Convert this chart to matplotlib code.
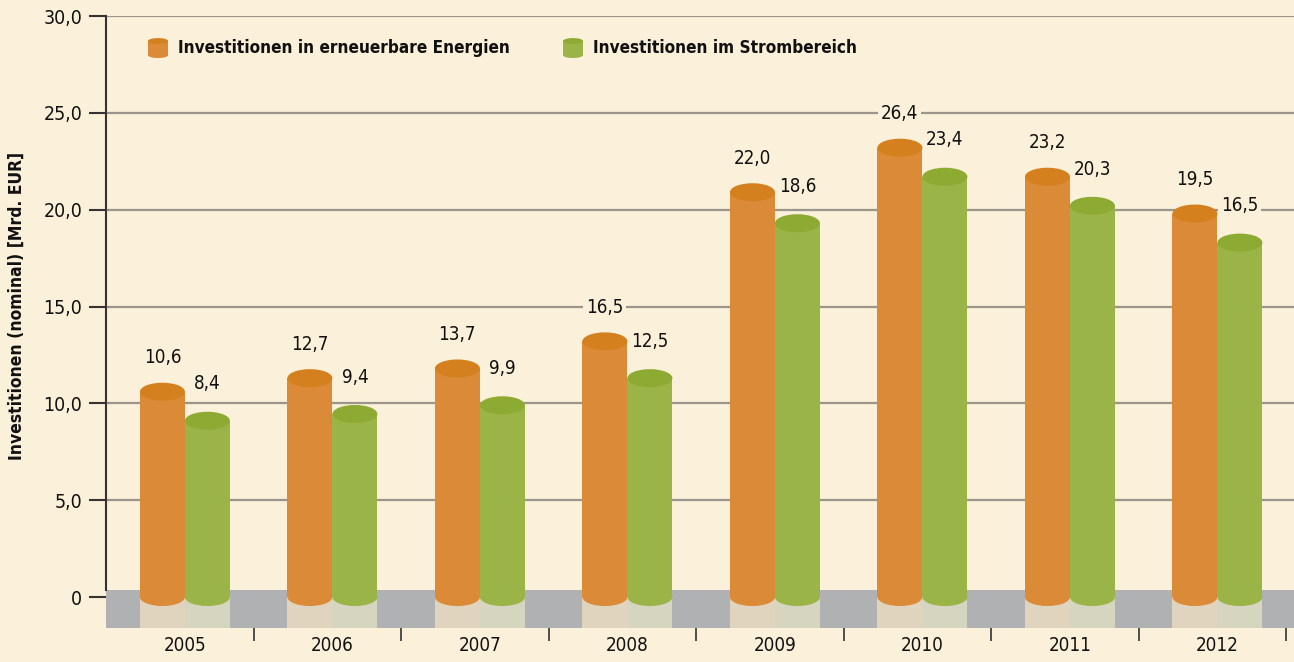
import numpy as np
import matplotlib
matplotlib.use('Agg')
import matplotlib.pyplot as plt
from matplotlib.patches import Rectangle, Ellipse

plt.rcParams['font.family'] = ['DejaVu Sans']
plt.rcParams['font.stretch'] = 'condensed'

years = ['2005', '2006', '2007', '2008', '2009', '2010', '2011', '2012']
# printed values
ee_values = [10.6, 12.7, 13.7, 16.5, 22.0, 26.4, 23.2, 19.5]
strom_values = [8.4, 9.4, 9.9, 12.5, 18.6, 23.4, 20.3, 16.5]
# heights of the drawn cylinders (not to scale with the values)
ee_drawn = [10.6, 11.3, 11.8, 13.2, 20.9, 23.2, 21.7, 19.8]
strom_drawn = [9.1, 9.45, 9.9, 11.3, 19.3, 21.7, 20.2, 18.3]

yticks = [0, 5, 10, 15, 20, 25, 30]
legend_labels = ['Investitionen in erneuerbare Energien', 'Investitionen im Strombereich']

bg = '#fbf0d9'
orange_body, orange_top, orange_shadow = '#db8b37', '#d5801e', '#e1d4bf'
green_body, green_top, green_shadow = '#9bb447', '#8dab32', '#d6d5bf'
band_color = '#b0b1b3'
grid_color = '#9a968e'
axis_color = '#333333'
text_color = '#111111'

fig = plt.figure(figsize=(12.94, 6.62), dpi=100, facecolor=bg)
ax = fig.add_axes([106 / 1294, 1 - 628 / 662, 1 - 106 / 1294, (628 - 16) / 662])
ax.set_facecolor(bg)

xmax = (1294 - 106) / 147.5
ax.set_xlim(0, xmax)
ax.set_ylim(-1.6, 30)

for y in yticks[1:]:
    ax.axhline(y, color=grid_color, lw=1.6, zorder=1)

band_top = 0.36
ax.add_patch(Rectangle((0, -1.6), xmax, band_top + 1.6, color=band_color, zorder=2, lw=0))

bw = 0.305
eh = 0.93


def cylinder(xc, h, body, top, shadow, z):
    ax.add_patch(Rectangle((xc - bw / 2, -1.6), bw, band_top + 1.6, color=shadow, lw=0, zorder=z))
    ax.add_patch(Rectangle((xc - bw / 2, 0), bw, h, color=body, lw=0, zorder=z + 0.1))
    ax.add_patch(Ellipse((xc, 0), bw, eh, color=body, lw=0, zorder=z + 0.1))
    ax.add_patch(Ellipse((xc, h), bw, eh, color=top, lw=0, zorder=z + 0.2))


def fmt(v):
    return f'{v:.1f}'.replace('.', ',')


centers = np.arange(len(years)) + 0.535
for i, c in enumerate(centers):
    xo = c - bw / 2
    xg = c + bw / 2
    cylinder(xo, ee_drawn[i], orange_body, orange_top, orange_shadow, 3)
    cylinder(xg, strom_drawn[i], green_body, green_top, green_shadow, 4)
    ax.text(xo, ee_drawn[i] + 1.75, fmt(ee_values[i]), ha='center', va='center',
            fontsize=13.5, color=text_color, zorder=6,
            bbox=dict(facecolor=bg, edgecolor='none', pad=2))
    ax.text(xg, strom_drawn[i] + 1.9, fmt(strom_values[i]), ha='center',
            va='center', fontsize=13.5, color=text_color, zorder=6,
            bbox=dict(facecolor=bg, edgecolor='none', pad=2))

# legend with small cylinders
leg_x = [0.353, 3.166]
leg_cols = [(orange_body, orange_top), (green_body, green_top)]
for lx, (b, t), lab in zip(leg_x, leg_cols, legend_labels):
    w = 0.136
    ax.add_patch(Rectangle((lx - w / 2, 27.98), w, 0.73, color=b, lw=0, zorder=5))
    ax.add_patch(Ellipse((lx, 27.98), w, 0.3, color=b, lw=0, zorder=5))
    ax.add_patch(Ellipse((lx, 28.71), w, 0.3, color=t, lw=0, zorder=5))
    ax.text(lx + 0.135, 28.33, lab, ha='left', va='center', fontsize=12.3, fontweight='bold',
            color=text_color, zorder=6)

# axes styling
for s in ['top', 'right', 'bottom']:
    ax.spines[s].set_visible(False)
ax.spines['left'].set_color(axis_color)
ax.spines['left'].set_linewidth(1.5)
ax.spines['left'].set_bounds(band_top, 30)
ax.spines['left'].set_zorder(5)

ax.set_yticks(yticks)
ax.set_yticklabels(['0'] + [fmt(v) for v in yticks[1:]], fontsize=14)
ax.tick_params(axis='y', length=12, width=1.5, color=axis_color, pad=5, labelcolor=text_color)

ax.set_xticks(np.arange(1, len(years) + 1))
ax.set_xticklabels([])
ax.tick_params(axis='x', which='major', length=9, width=1.2, color=axis_color, direction='out')
ax.set_xticks(centers, minor=True)
ax.set_xticklabels(years, minor=True, fontsize=13.5, color=text_color)
ax.tick_params(axis='x', which='minor', length=0, pad=6)

fig.text(17 / 1294, 1 - 306 / 662, 'Investitionen (nominal) [Mrd. EUR]', rotation=90,
         ha='center', va='center', fontsize=12.5, fontweight='bold', color=text_color)

fig.savefig('out.png', dpi=100, facecolor=bg)
